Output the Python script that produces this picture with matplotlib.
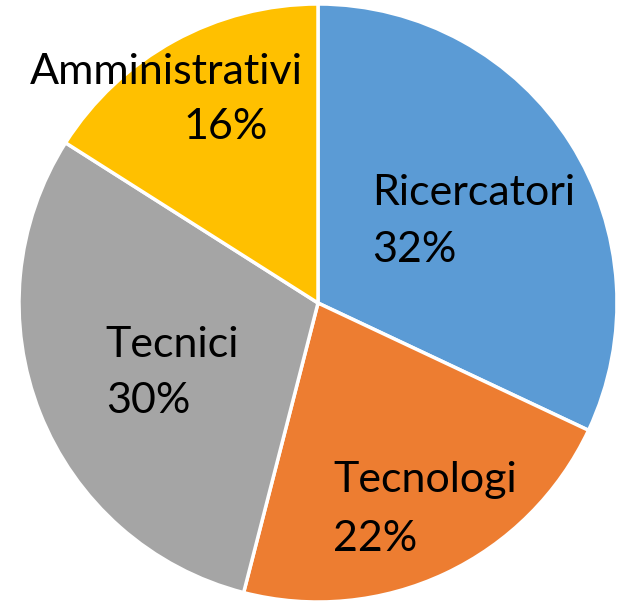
import matplotlib
matplotlib.use("Agg")
import matplotlib.pyplot as plt

categories = ["Ricercatori", "Tecnologi", "Tecnici", "Amministrativi"]
values = [32, 22, 30, 16]
pct_labels = ["32%", "22%", "30%", "16%"]
colors = ["#5B9BD5", "#ED7D31", "#A5A5A5", "#FFC000"]

W, H = 623, 601
cx, cy, R = 318, 303, 299  # pixel center / radius

fig = plt.figure(figsize=(W / 100, H / 100), dpi=100)
ax = fig.add_axes([0, 0, 1, 1])
ax.pie(values, colors=colors, startangle=90, counterclock=False, radius=1,
       wedgeprops=dict(edgecolor="white", linewidth=2.5))
ax.set_xlim(-cx / R, (W - cx) / R)
ax.set_ylim(-(H - cy) / R, cy / R)
ax.set_aspect("equal")
ax.axis("off")

# label placement (data coords, baseline)
name_pos = [(0.18, 0.327), (0.05, -0.633), (-0.71, -0.18), (-0.965, 0.733)]
pct_pos = [(0.18, 0.137), (0.05, -0.83), (-0.71, -0.367), (-0.45, 0.55)]
fs = 31
for cat, pl, (nx, ny), (px, py) in zip(categories, pct_labels, name_pos, pct_pos):
    ax.text(nx, ny, cat, ha="left", va="baseline", fontsize=fs, family="Lato", color="black")
    ax.text(px, py, pl, ha="left", va="baseline", fontsize=fs, family="Lato", color="black")

fig.savefig("out.png", dpi=100)
